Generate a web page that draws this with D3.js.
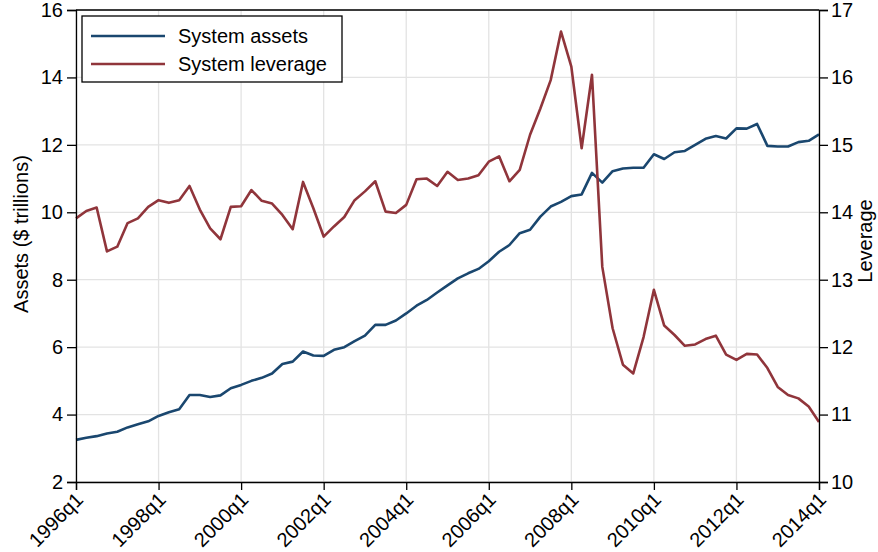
<!DOCTYPE html>
<html>
<head>
<meta charset="utf-8">
<script src="https://cdn.jsdelivr.net/npm/d3@7"></script>
<style>
body { margin: 0; background: #fff; }
svg text { font-family: "Liberation Sans", Arial, sans-serif; fill: #000; }
</style>
</head>
<body>
<div id="chart"></div>
<script>
// quarterly, 1996q1 .. 2014q1
var startYear = 1996;
var assets = [3.25,3.31,3.36,3.44,3.49,3.62,3.71,3.80,3.96,4.07,4.16,4.58,4.58,4.52,4.57,4.78,
    4.88,5.00,5.09,5.22,5.50,5.57,5.87,5.75,5.74,5.92,6.00,6.18,6.34,6.66,6.66,6.79,
    7.00,7.23,7.40,7.62,7.83,8.04,8.19,8.32,8.55,8.83,9.03,9.38,9.48,9.87,10.17,10.31,
    10.48,10.53,11.17,10.88,11.22,11.30,11.32,11.32,11.72,11.58,11.78,11.82,12.00,12.18,12.26,12.19,
    12.49,12.48,12.62,11.97,11.95,11.95,12.08,12.12,12.31];
var leverage = [13.91,14.02,14.07,13.42,13.49,13.84,13.91,14.08,14.18,14.14,14.18,14.39,14.04,13.76,13.60,14.08,
    14.09,14.33,14.17,14.13,13.96,13.75,14.45,14.06,13.64,13.79,13.93,14.18,14.31,14.46,14.01,13.99,
    14.11,14.49,14.50,14.39,14.60,14.48,14.50,14.55,14.75,14.83,14.46,14.63,15.15,15.54,15.96,16.68,
    16.16,14.95,16.04,13.19,12.28,11.74,11.61,12.15,12.85,12.32,12.18,12.02,12.04,12.12,12.17,11.89,
    11.81,11.90,11.89,11.69,11.41,11.29,11.24,11.12,10.89];
var xTicks = [0,8,16,24,32,40,48,56,64,72];
var leftTicks = [2,4,6,8,10,12,14,16];
var rightTicks = [10,11,12,13,14,15,16,17];
var seriesNames = ["System assets", "System leverage"];
var colors = ["#1a476f", "#90353b"];

function qLabel(i) { return (startYear + Math.floor(i / 4)) + "q" + (i % 4 + 1); }

var W = 878, H = 552;
var m = {left: 76, right: 59, top: 10, bottom: 70};
var svg = d3.select("#chart").append("svg").attr("width", W).attr("height", H);
var g = svg.append("g").attr("transform", "translate(" + m.left + "," + m.top + ")");
var w = W - m.left - m.right, h = H - m.top - m.bottom;

var x = d3.scaleLinear().domain([0, 72]).range([0, w]);
var yL = d3.scaleLinear().domain([2, 16]).range([h, 0]);
var yR = d3.scaleLinear().domain([10, 17]).range([h, 0]);

// grid
g.selectAll(".hg").data(leftTicks).enter().append("line")
    .attr("x1", 0).attr("x2", w)
    .attr("y1", function(d) { return yL(d); }).attr("y2", function(d) { return yL(d); })
    .attr("stroke", "#e3e3e3").attr("stroke-width", 1.3);
g.selectAll(".vg").data(xTicks).enter().append("line")
    .attr("x1", function(d) { return x(d); }).attr("x2", function(d) { return x(d); })
    .attr("y1", 0).attr("y2", h)
    .attr("stroke", "#e3e3e3").attr("stroke-width", 1.3);

// top frame
g.append("line").attr("x1", 0).attr("x2", w).attr("y1", 0).attr("y2", 0)
    .attr("stroke", "#000").attr("stroke-width", 1.3);

// lines
var lineL = d3.line().x(function(d, i) { return x(i); }).y(function(d) { return yL(d); });
var lineR = d3.line().x(function(d, i) { return x(i); }).y(function(d) { return yR(d); });
g.append("path").datum(assets).attr("d", lineL)
    .attr("fill", "none").attr("stroke", colors[0]).attr("stroke-width", 2.6).attr("stroke-linejoin", "round");
g.append("path").datum(leverage).attr("d", lineR)
    .attr("fill", "none").attr("stroke", colors[1]).attr("stroke-width", 2.6).attr("stroke-linejoin", "round");

// axes
var ax = g.append("g").attr("transform", "translate(0," + h + ")")
    .call(d3.axisBottom(x).tickValues(xTicks).tickFormat(qLabel).tickSize(8).tickPadding(0));
ax.selectAll("text").attr("text-anchor", "end").attr("x", 0).attr("y", 0)
    .attr("dy", "0.35em").attr("transform", "translate(3,14) rotate(-45)");
var al = g.append("g").call(d3.axisLeft(yL).tickValues(leftTicks).tickSize(9).tickPadding(4));
var ar = g.append("g").attr("transform", "translate(" + w + ",0)")
    .call(d3.axisRight(yR).tickValues(rightTicks).tickFormat(d3.format("d")).tickSize(9).tickPadding(3));
[ax, al, ar].forEach(function(a) {
    a.selectAll("text").style("font-size", "20px").attr("fill", "#000");
    a.selectAll("line, path").attr("stroke", "#000").attr("stroke-width", 1.3);
});

// axis titles
svg.append("text").attr("transform", "translate(28,234) rotate(-90)")
    .attr("text-anchor", "middle").style("font-size", "20px").text("Assets ($ trillions)");
svg.append("text").attr("transform", "translate(872,241) rotate(-90)")
    .attr("text-anchor", "middle").style("font-size", "20px").text("Leverage");

// legend
var lg = svg.append("g").attr("transform", "translate(82,16)");
lg.append("rect").attr("width", 260).attr("height", 66)
    .attr("fill", "#fff").attr("stroke", "#000").attr("stroke-width", 1.3);
seriesNames.forEach(function(s, i) {
    var yy = 20 + i * 28;
    lg.append("line").attr("x1", 9).attr("x2", 83).attr("y1", yy).attr("y2", yy)
        .attr("stroke", colors[i]).attr("stroke-width", 2.6);
    lg.append("text").attr("x", 96).attr("y", yy).attr("dy", "0.35em")
        .style("font-size", "20px").text(s);
});
</script>
</body>
</html>
